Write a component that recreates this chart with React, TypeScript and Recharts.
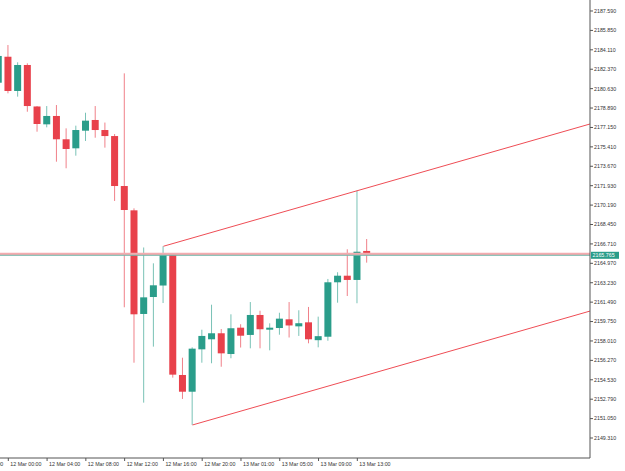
import { ComposedChart, Bar, XAxis, YAxis, ReferenceLine } from "recharts";

// hourly candles, first one is the partially hidden 11 Mar 23:00 bar
const times = [
  "11 Mar 23:00",
  "12 Mar 00:00", "12 Mar 01:00", "12 Mar 02:00", "12 Mar 03:00", "12 Mar 04:00", "12 Mar 05:00",
  "12 Mar 06:00", "12 Mar 07:00", "12 Mar 08:00", "12 Mar 09:00", "12 Mar 10:00", "12 Mar 11:00",
  "12 Mar 12:00", "12 Mar 13:00", "12 Mar 14:00", "12 Mar 15:00", "12 Mar 16:00", "12 Mar 17:00",
  "12 Mar 18:00", "12 Mar 19:00", "12 Mar 20:00", "12 Mar 21:00", "12 Mar 22:00", "12 Mar 23:00",
  "13 Mar 01:00", "13 Mar 02:00", "13 Mar 03:00", "13 Mar 04:00", "13 Mar 05:00", "13 Mar 06:00",
  "13 Mar 07:00", "13 Mar 08:00", "13 Mar 09:00", "13 Mar 10:00", "13 Mar 11:00", "13 Mar 12:00",
  "13 Mar 13:00", "13 Mar 14:00",
];

const opens = [
  2181.16, 2183.49, 2180.42, 2182.75, 2179.03, 2177.43, 2178.18, 2176.09, 2175.28, 2176.86,
  2177.82, 2176.92, 2176.38, 2171.90, 2169.72, 2160.43, 2161.95, 2162.98, 2165.72, 2154.96,
  2153.46, 2157.26, 2158.16, 2158.70, 2156.84, 2159.20, 2158.55, 2160.34, 2159.02, 2159.17,
  2159.95, 2159.32, 2159.68, 2158.08, 2158.39, 2163.27, 2163.86, 2163.48, 2166.08,
];
const closes = [
  2183.56, 2180.42, 2182.75, 2179.07, 2177.46, 2178.18, 2176.09, 2175.22, 2176.92, 2177.76,
  2176.92, 2176.38, 2171.90, 2169.75, 2160.40, 2161.92, 2163.00, 2165.72, 2154.99, 2153.46,
  2157.32, 2158.46, 2158.70, 2156.90, 2159.15, 2158.48, 2160.34, 2159.06, 2159.20, 2160.01,
  2159.40, 2159.60, 2158.16, 2158.44, 2163.27, 2163.86, 2163.48, 2166.01, 2165.78,
];
const highs = [
  2183.92, 2184.54, 2182.99, 2182.90, 2179.07, 2179.07, 2179.16, 2177.07, 2177.31, 2178.47,
  2179.07, 2177.59, 2176.56, 2182.00, 2169.90, 2166.39, 2164.97, 2166.50, 2165.80, 2156.51,
  2157.44, 2159.02, 2161.26, 2159.08, 2160.40, 2159.51, 2161.50, 2160.72, 2159.59, 2160.54,
  2161.50, 2160.76, 2161.06, 2160.19, 2163.57, 2164.17, 2166.23, 2171.48, 2167.15,
];
const lows = [
  2180.87, 2180.21, 2179.91, 2178.56, 2176.77, 2177.16, 2174.08, 2173.49, 2174.62, 2175.94,
  2176.23, 2175.34, 2170.56, 2161.03, 2156.06, 2152.48, 2157.50, 2161.41, 2154.72, 2152.81,
  2150.48, 2156.06, 2156.01, 2155.70, 2156.46, 2157.42, 2157.35, 2157.35, 2157.17, 2158.57,
  2158.32, 2158.46, 2157.80, 2157.44, 2158.03, 2161.44, 2162.04, 2161.39, 2165.03,
];

const priceTicks = [
  2149.31, 2151.05, 2152.79, 2154.53, 2156.27, 2158.01, 2159.75, 2161.49, 2163.23, 2164.97,
  2166.71, 2168.45, 2170.19, 2171.93, 2173.67, 2175.41, 2177.15, 2178.89, 2180.63, 2182.37,
  2184.11, 2185.85, 2187.59,
];
const timeTicks = [0, 4, 8, 12, 16, 20, 24, 28, 32, 36];
// label of the tick just left of the visible range, only its tail shows
const hiddenTickLabel = "11 Mar 20:00";

const lastPrice = 2165.765;
const askLine = 2165.81;
const bidLine = 2165.69;

// channel drawn on the chart (bar slot, price)
const upperChannel = [
  { x: 16, y: 2166.5 },
  { x: 60, y: 2177.46 },
];
const lowerChannel = [
  { x: 19, y: 2150.48 },
  { x: 60, y: 2160.69 },
];

const data = times.map((t, i) => ({
  slot: i - 1,
  time: t,
  open: opens[i],
  close: closes[i],
  high: highs[i],
  low: lows[i],
}));

const UP = "#2a9d8a";
const DOWN = "#e8414b";
const UP_WICK = "#79c2b6";
const DOWN_WICK = "#f08089";
const AXIS = "#555555";
const FONT = "'Liberation Sans', Arial, sans-serif";

function Candle(props: any) {
  const { x, y, width, height, payload } = props;
  if (height == null || !payload) return null;
  const { open, close, high, low } = payload;
  const h = Math.abs(height);
  const top = Math.min(y, y + height);
  const ppu = h / (high - low);
  const up = close >= open;
  const bodyTop = top + (high - Math.max(open, close)) * ppu;
  const bodyH = Math.max(1, Math.abs(open - close) * ppu);
  const cx = x + width / 2;
  return (
    <g>
      <line x1={cx} x2={cx} y1={top} y2={top + h} stroke={up ? UP_WICK : DOWN_WICK} strokeWidth={1} />
      <rect x={x} y={bodyTop} width={width} height={bodyH} fill={up ? UP : DOWN} />
    </g>
  );
}

function TimeTick(props: any) {
  const { x, y, payload } = props;
  const label = times[payload.value + 1];
  return (
    <g>
      {payload.value === timeTicks[0] && (
        <text x={x - 5} y={y + 3} fontSize={5.3} fontFamily={FONT} fill="#333" textAnchor="end">
          {hiddenTickLabel}
        </text>
      )}
      <text x={x + 2} y={y + 3} fontSize={5.3} fontFamily={FONT} fill="#333" textAnchor="start">
        {label}
      </text>
    </g>
  );
}

function PriceLabel(props: any) {
  const { viewBox } = props;
  if (!viewBox) return null;
  const right = viewBox.x + viewBox.width;
  return (
    <g>
      <rect x={right + 1} y={viewBox.y - 3.5} width={28} height={7} fill={UP} />
      <text x={right + 2.5} y={viewBox.y + 1.9} fontSize={5.3} fontFamily={FONT} fill="#ffffff">
        {lastPrice.toFixed(3)}
      </text>
    </g>
  );
}

export default function App() {
  return (
    <div style={{ position: "absolute", left: 0, top: 0, background: "#fff" }}>
      <ComposedChart width={625} height={471} data={data} margin={{ top: 0, right: 0, bottom: 0, left: 0 }}>
        <XAxis
          dataKey="slot"
          type="number"
          domain={[-0.856, 60]}
          allowDataOverflow
          ticks={timeTicks}
          tick={<TimeTick />}
          tickSize={3}
          height={13}
          axisLine={{ stroke: AXIS }}
          tickLine={{ stroke: AXIS }}
        />
        <YAxis
          orientation="right"
          type="number"
          domain={[2147.518, 2188.576]}
          allowDataOverflow
          ticks={priceTicks}
          tickFormatter={(v: number) => v.toFixed(3)}
          width={35}
          tickSize={3}
          tickMargin={1}
          axisLine={{ stroke: AXIS }}
          tickLine={{ stroke: AXIS }}
          tick={{ fontSize: 5.3, fontFamily: FONT, fill: "#333" }}
        />
        <Bar
          dataKey={(d: any) => [d.low, d.high]}
          barSize={7}
          shape={<Candle />}
          isAnimationActive={false}
        />
        <ReferenceLine y={askLine} stroke="#f4abaf" strokeWidth={2.5} />
        <ReferenceLine y={bidLine} stroke="#6fb8ab" strokeWidth={1} label={<PriceLabel />} />
        <ReferenceLine segment={upperChannel} stroke="#ef4d55" strokeWidth={1} />
        <ReferenceLine segment={lowerChannel} stroke="#ef4d55" strokeWidth={1} />
      </ComposedChart>
    </div>
  );
}
